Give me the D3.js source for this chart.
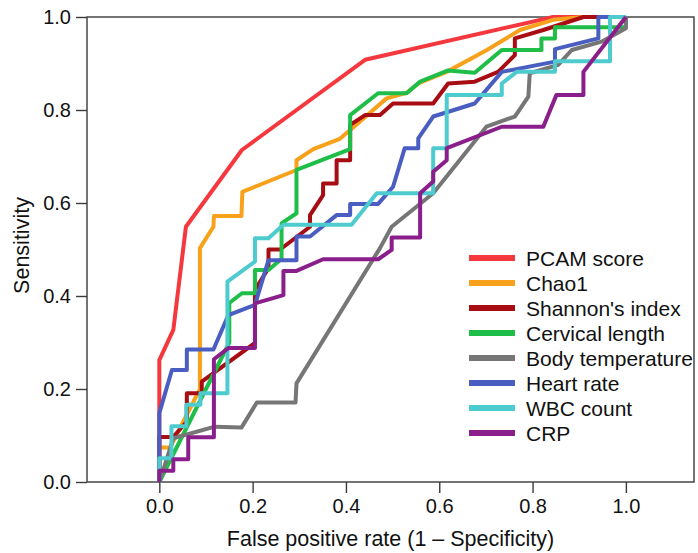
<!DOCTYPE html>
<html>
<head>
<meta charset="utf-8">
<script src="https://cdn.jsdelivr.net/npm/d3@7"></script>
<style>
	body { margin: 0; background: #fff; }
	text { font-family: "Liberation Sans", Arial, sans-serif; fill: #111; }
</style>
</head>
<body>
<script>
"use strict";

// ROC points [false positive rate, sensitivity]
var pcamScore = [[0,0],[0,0.262],[0.030,0.327],[0.057,0.549],[0.177,0.714],[0.441,0.908],[0.844,1],[1,1]];

var chao1 = [[0,0],[0,0.074],[0.023,0.074],[0.087,0.2],[0.087,0.503],[0.116,0.549],[0.117,0.572],[0.176,0.572],
	[0.178,0.624],[0.294,0.671],[0.294,0.692],[0.330,0.716],[0.387,0.738],[0.416,0.763],[0.487,0.825],[0.530,0.837],
	[0.555,0.857],[0.616,0.882],[0.702,0.929],[0.773,0.972],[0.844,0.994],[0.909,1],[1,1]];

var shannon = [[0,0],[0,0.097],[0.030,0.097],[0.059,0.13],[0.059,0.191],[0.091,0.191],[0.091,0.216],[0.205,0.299],
	[0.205,0.413],[0.234,0.460],[0.234,0.500],[0.259,0.500],[0.323,0.549],[0.323,0.574],[0.351,0.617],[0.351,0.642],
	[0.380,0.642],[0.380,0.692],[0.409,0.692],[0.409,0.768],[0.441,0.789],[0.473,0.789],[0.501,0.814],[0.587,0.814],
	[0.619,0.857],[0.676,0.861],[0.726,0.882],[0.762,0.918],[0.762,0.954],[0.823,0.972],[0.909,1],[1,1]];

var cervical = [[0,0],[0.150,0.300],[0.150,0.385],[0.177,0.406],[0.205,0.406],[0.205,0.456],[0.234,0.456],
	[0.262,0.48],[0.262,0.556],[0.294,0.578],[0.294,0.671],[0.409,0.716],[0.409,0.789],[0.469,0.836],[0.530,0.836],
	[0.559,0.861],[0.619,0.885],[0.676,0.880],[0.734,0.929],[0.819,0.929],[0.819,0.954],[0.848,0.954],[0.848,0.978],
	[1,0.978],[1,1]];

var bodyTemp = [[0,0],[0.030,0.094],[0.119,0.119],[0.176,0.117],[0.209,0.171],[0.292,0.171],[0.294,0.212],
	[0.473,0.503],[0.498,0.549],[0.587,0.621],[0.701,0.764],[0.762,0.786],[0.791,0.829],[0.794,0.879],[0.855,0.897],
	[0.884,0.929],[0.948,0.947],[1,0.976],[1,1]];

var heartRate = [[0,0],[0,0.148],[0.027,0.241],[0.059,0.241],[0.059,0.285],[0.116,0.285],[0.148,0.359],
	[0.205,0.381],[0.234,0.477],[0.294,0.477],[0.294,0.528],[0.323,0.528],[0.380,0.574],[0.409,0.574],[0.409,0.598],
	[0.469,0.598],[0.501,0.635],[0.526,0.718],[0.555,0.718],[0.555,0.739],[0.587,0.786],[0.676,0.814],[0.734,0.882],
	[0.848,0.904],[0.848,0.931],[0.941,0.954],[0.941,1],[1,1]];

var wbcCount = [[0,0],[0,0.051],[0.026,0.051],[0.026,0.120],[0.058,0.120],[0.058,0.166],[0.088,0.166],[0.088,0.191],
	[0.146,0.191],[0.146,0.431],[0.205,0.474],[0.205,0.524],[0.234,0.524],[0.266,0.553],[0.412,0.553],[0.466,0.621],
	[0.587,0.621],[0.587,0.718],[0.616,0.718],[0.616,0.832],[0.734,0.832],[0.734,0.857],[0.766,0.882],[0.848,0.882],
	[0.848,0.905],[0.966,0.905],[0.966,1],[1,1]];

var crp = [[0,0],[0,0.024],[0.030,0.024],[0.030,0.049],[0.062,0.049],[0.062,0.096],[0.117,0.096],[0.117,0.264],
	[0.148,0.288],[0.205,0.288],[0.205,0.384],[0.266,0.402],[0.266,0.454],[0.294,0.454],[0.351,0.479],[0.469,0.479],
	[0.498,0.499],[0.498,0.526],[0.559,0.526],[0.559,0.621],[0.587,0.646],[0.587,0.667],[0.616,0.692],[0.616,0.718],
	[0.734,0.764],[0.823,0.764],[0.851,0.832],[0.909,0.832],[0.909,0.882],[1,1]];

var seriesNames = ["PCAM score", "Chao1", "Shannon's index", "Cervical length", "Body temperature", "Heart rate", "WBC count", "CRP"];
var seriesData = [pcamScore, chao1, shannon, cervical, bodyTemp, heartRate, wbcCount, crp];
var seriesColors = ["#f4383e", "#f8a21c", "#a70d12", "#1ebe48", "#767676", "#4a5ec2", "#4dcbce", "#8a1f8c"];

var xTicks = [0, 0.2, 0.4, 0.6, 0.8, 1.0];
var yTicks = [0, 0.2, 0.4, 0.6, 0.8, 1.0];

var width = 698, height = 553;
var plotLeft = 87, plotRight = 694, plotTop = 17, plotBottom = 482;

var svg = d3.select("body").append("svg")
	.attr("width", width)
	.attr("height", height);

var x = d3.scaleLinear().domain([-0.155, 1.146]).range([plotLeft, plotRight]);
var y = d3.scaleLinear().domain([0, 1]).range([plotBottom, plotTop]);

// axes
svg.append("g")
	.attr("transform", "translate(0," + plotBottom + ")")
	.call(d3.axisBottom(x).tickValues(xTicks).tickFormat(d3.format(".1f")).tickSize(11).tickSizeOuter(0).tickPadding(6));

svg.append("g")
	.attr("transform", "translate(" + plotLeft + ",0)")
	.call(d3.axisLeft(y).tickValues(yTicks).tickFormat(d3.format(".1f")).tickSize(11).tickSizeOuter(0).tickPadding(5));

svg.selectAll(".domain").remove();
svg.selectAll(".tick line").attr("stroke", "#3a3a3a").attr("stroke-width", 1.4);
svg.selectAll(".tick text").style("font-size", "20px").attr("fill", "#111");

// frame
svg.append("rect")
	.attr("x", plotLeft)
	.attr("y", plotTop)
	.attr("width", plotRight - plotLeft)
	.attr("height", plotBottom - plotTop)
	.attr("fill", "none")
	.attr("stroke", "#3a3a3a")
	.attr("stroke-width", 1.4);

// curves
var line = d3.line()
	.x(function (d) { return x(d[0]); })
	.y(function (d) { return y(d[1]); });

svg.append("g").selectAll("path")
	.data(seriesData)
	.enter().append("path")
	.attr("d", line)
	.attr("fill", "none")
	.attr("stroke", function (d, i) { return seriesColors[i]; })
	.attr("stroke-width", 4)
	.attr("stroke-linejoin", "round");

// legend
var legend = svg.append("g").selectAll("g")
	.data(seriesNames)
	.enter().append("g")
	.attr("transform", function (d, i) { return "translate(469," + (258 + i * 25) + ")"; });

legend.append("line")
	.attr("x1", 0)
	.attr("x2", 46)
	.attr("stroke", function (d, i) { return seriesColors[i]; })
	.attr("stroke-width", 6);

legend.append("text")
	.attr("x", 57)
	.attr("y", 8)
	.style("font-size", "21px")
	.text(function (d) { return d; });

// axis titles
svg.append("text")
	.attr("x", (plotLeft + plotRight) / 2)
	.attr("y", 546)
	.attr("text-anchor", "middle")
	.style("font-size", "21.5px")
	.text("False positive rate (1 \u2013 Specificity)");

svg.append("text")
	.attr("transform", "translate(29," + ((plotTop + plotBottom) / 2 - 4) + ") rotate(-90)")
	.attr("text-anchor", "middle")
	.style("font-size", "21.5px")
	.text("Sensitivity");
</script>
</body>
</html>
